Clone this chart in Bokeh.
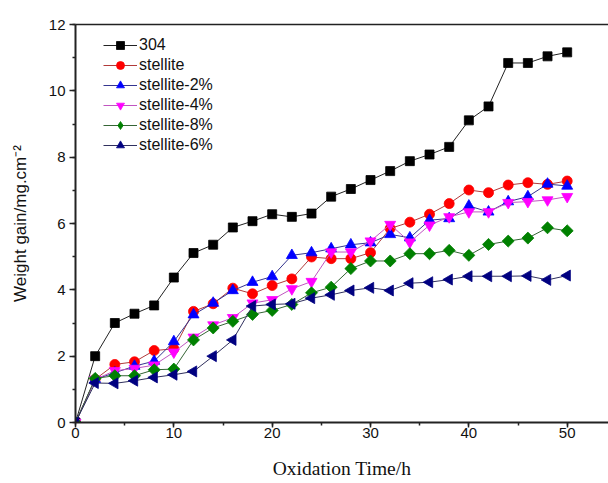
import math
from bokeh.plotting import figure
from bokeh.models import (Range1d, LinearAxis, FixedTicker, SingleIntervalTicker,
                          Legend, LegendItem, ColumnDataSource)
from bokeh.embed import file_html
from bokeh.resources import INLINE

# ---------------- data ----------------
time_h = [0, 2, 4, 6, 8, 10, 12, 14, 16, 18, 20, 22, 24, 26, 28, 30, 32, 34, 36, 38, 40, 42, 44, 46, 48, 50]

s304 = [0, 2.0, 3.0, 3.28, 3.53, 4.37, 5.11, 5.36, 5.88, 6.07, 6.28, 6.2, 6.3,
        6.81, 7.04, 7.31, 7.58, 7.88, 8.08, 8.31, 9.11, 9.53, 10.84, 10.84, 11.04, 11.16]
stellite = [0, 1.3, 1.75, 1.83, 2.17, 2.22, 3.35, 3.58, 4.05, 3.88, 4.13, 4.33, 4.99,
            4.94, 4.94, 5.12, 5.85, 6.04, 6.28, 6.6, 7.01, 6.93, 7.16, 7.23, 7.18, 7.28]
stellite_2 = [0, 1.3, 1.5, 1.7, 1.85, 2.44, 3.25, 3.6, 3.98, 4.23, 4.4, 5.04, 5.12,
              5.24, 5.36, 5.42, 5.67, 5.57, 6.1, 6.15, 6.53, 6.35, 6.66, 6.81, 7.19, 7.13]
stellite_4 = [0, 1.3, 1.56, 1.63, 1.73, 2.12, 2.57, 2.94, 3.16, 3.6, 3.7, 4.03, 4.25,
              5.14, 5.14, 5.47, 5.97, 5.44, 5.95, 6.2, 6.35, 6.35, 6.63, 6.66, 6.71, 6.81]
stellite_8 = [0, 1.33, 1.41, 1.41, 1.59, 1.61, 2.49, 2.85, 3.05, 3.26, 3.38, 3.56, 3.91,
              4.08, 4.64, 4.87, 4.87, 5.09, 5.09, 5.19, 5.04, 5.37, 5.47, 5.56, 5.87, 5.78]
stellite_6 = [0, 1.19, 1.18, 1.26, 1.36, 1.44, 1.54, 2.0, 2.49, 3.51, 3.56, 3.58, 3.75,
              3.85, 3.98, 4.06, 3.98, 4.2, 4.23, 4.31, 4.41, 4.41, 4.41, 4.42, 4.3, 4.43]

series_names = ["304", "stellite", "stellite-2%", "stellite-4%", "stellite-8%", "stellite-6%"]
series_values = [s304, stellite, stellite_2, stellite_4, stellite_8, stellite_6]

x_label = "Oxidation Time/h"
y_label = "Weight gain/mg.cm\u207b\u00b2"

# ---------------- styles ----------------
marker_fill = ["#000000", "#ff0000", "#0000ff", "#ff00ff", "#008000", "#000080"]
line_cols = ["#222222", "#b03a3a", "#35358f", "#c055c0", "#356535", "#30305e"]
marker_kind = ["square", "circle", "triangle", "inverted_triangle", "square", "triangle"]
legend_kind = ["square", "circle", "triangle", "inverted_triangle", "diamond", "triangle"]
marker_size = [9, 10, 11, 11, 8.5, 11]
marker_angle = [0, 0, 0, 0, math.pi / 4, math.pi / 2]

W, H = 608, 483
B_LEFT, B_TOP, B_BOTTOM = 75, 24, 61
FRAME_H = H - B_TOP - B_BOTTOM

p = figure(width=W, height=H, output_backend="svg", toolbar_location=None,
           x_range=Range1d(0, 54.2), y_range=Range1d(0, 12),
           min_border_left=B_LEFT, min_border_right=0, min_border_top=B_TOP,
           min_border_bottom=B_BOTTOM,
           x_axis_label=x_label, y_axis_label=y_label)
p.grid.visible = False
p.outline_line_color = None
p.background_fill_color = "white"

p.xaxis.ticker = SingleIntervalTicker(interval=10, num_minor_ticks=2)
p.yaxis.ticker = SingleIntervalTicker(interval=2, num_minor_ticks=2)

for ax in (p.xaxis[0], p.yaxis[0]):
    ax.axis_line_width = 2
    ax.axis_line_color = "#222222"
    ax.major_tick_line_width = 1.5
    ax.minor_tick_line_width = 1.5
    ax.major_tick_line_color = "#222222"
    ax.minor_tick_line_color = "#222222"
    ax.major_tick_in = 0
    ax.major_tick_out = 6
    ax.minor_tick_in = 0
    ax.minor_tick_out = 3
    ax.major_label_text_font = "Liberation Sans"
    ax.major_label_text_font_size = "15px"
    ax.major_label_text_color = "#111111"

p.xaxis.major_tick_out = 5
p.xaxis.major_label_standoff = 0
p.xaxis.axis_label_standoff = 17
p.xaxis.axis_label_text_font = "Liberation Serif"
p.xaxis.axis_label_text_font_style = "normal"
p.xaxis.axis_label_text_font_size = "19.5px"
p.xaxis.axis_label_text_color = "#111111"

p.yaxis.major_label_standoff = 4
p.yaxis.axis_label_standoff = 16
p.yaxis.axis_label_text_font = "Liberation Sans"
p.yaxis.axis_label_text_font_style = "normal"
p.yaxis.axis_label_text_font_size = "17px"
p.yaxis.axis_label_text_color = "#111111"

# top frame line
top_ax = LinearAxis(ticker=FixedTicker(ticks=[]), axis_line_width=1.5, axis_line_color="#222222",
                    major_tick_out=0, major_tick_in=0, minor_tick_out=0, minor_tick_in=0,
                    major_label_text_font_size="0px", major_label_standoff=0)
p.add_layout(top_ax, "above")

items = []
for name, vals, fc, lc, mk, lk, ms, ma in zip(series_names, series_values, marker_fill, line_cols,
                                              marker_kind, legend_kind, marker_size, marker_angle):
    src = ColumnDataSource(dict(x=time_h, y=vals))
    ln = p.line("x", "y", source=src, line_color=lc, line_width=1)
    sc = p.scatter("x", "y", source=src, marker=mk, size=ms, angle=ma,
                   fill_color=fc, line_color=fc, line_width=0.8)
    if lk != mk:
        # legend-only glyph with the proper symbol shape (a single non-plotted point)
        sc = p.scatter(x=[float("nan")], y=[float("nan")], marker=lk,
                       fill_color=fc, line_color=fc, line_width=0.8)
    items.append(LegendItem(label=name, renderers=[ln, sc]))

legend = Legend(items=items, location=(28, FRAME_H - 11 - 120), margin=0, padding=0,
                spacing=0, glyph_width=34, glyph_height=20, label_height=20,
                label_standoff=2, label_text_font="Liberation Sans",
                label_text_font_size="16px", label_text_color="#111111",
                border_line_color=None, background_fill_alpha=0)
p.add_layout(legend, "center")

open("out.html", "w").write(file_html(p, INLINE))
